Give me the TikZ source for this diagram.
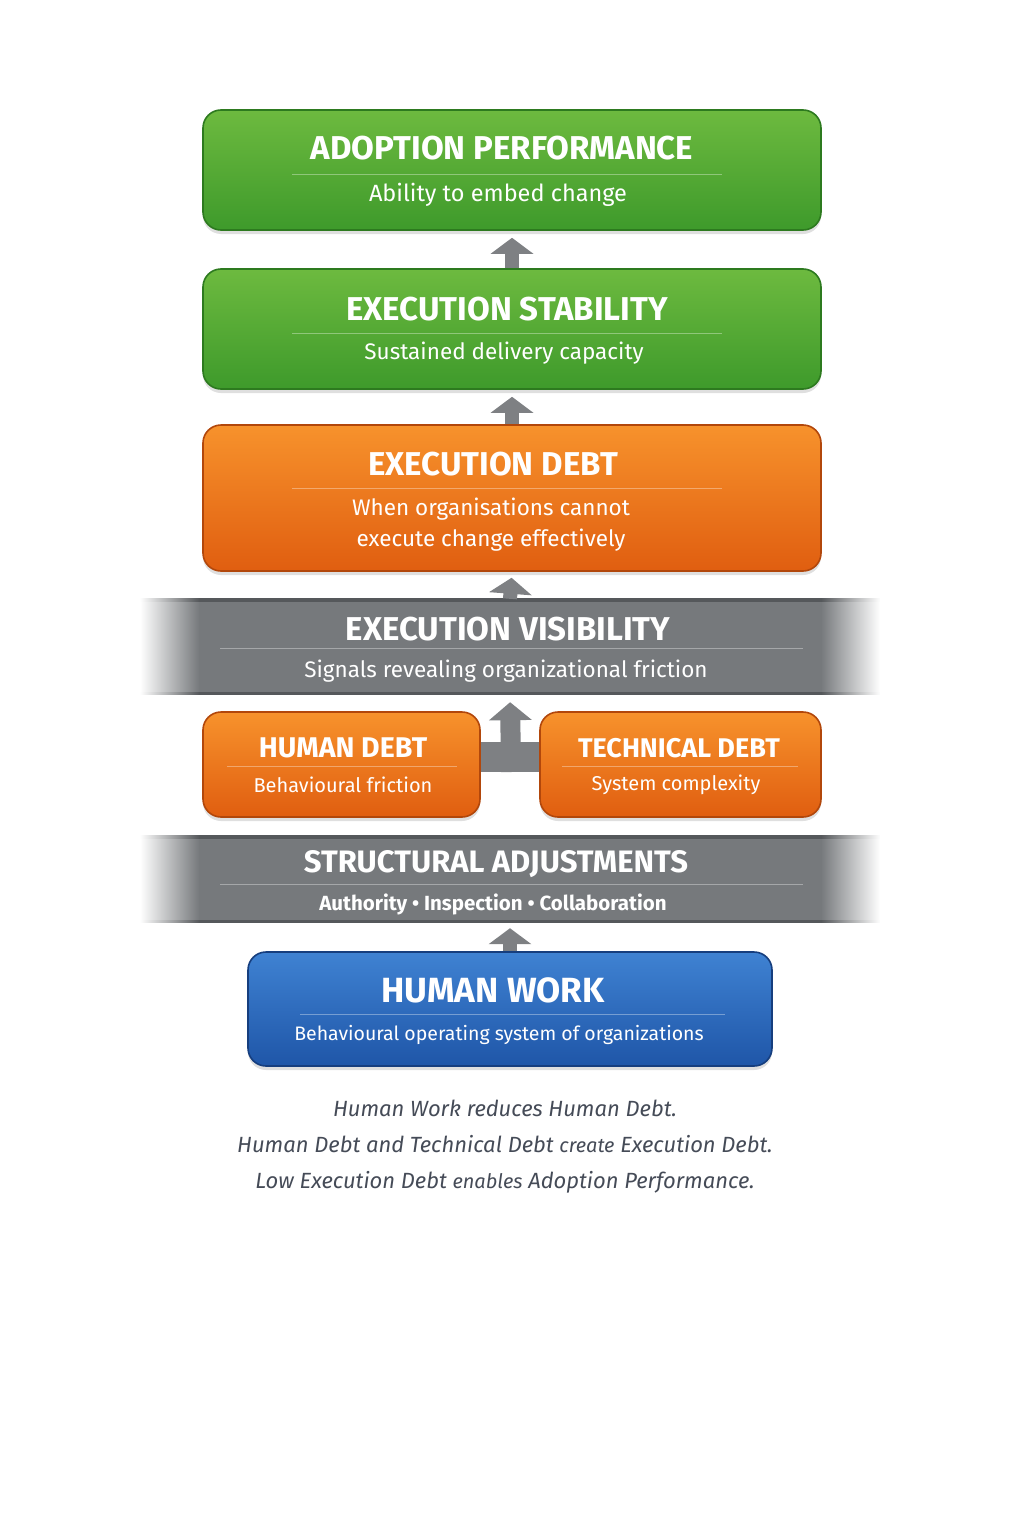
\documentclass[tikz,border=0pt]{standalone}
\usepackage{fontspec}
\setmainfont{Fira Sans}
\usetikzlibrary{shadows,arrows.meta}

\definecolor{greentop}{HTML}{6DBA3F}
\definecolor{greenbot}{HTML}{3E9A2B}
\definecolor{greenline}{HTML}{2D7A1F}
\definecolor{orangetop}{HTML}{F7922C}
\definecolor{orangebot}{HTML}{E05E10}
\definecolor{orangeline}{HTML}{B2470B}
\definecolor{bluetop}{HTML}{3F82D2}
\definecolor{bluebot}{HTML}{1F56A8}
\definecolor{blueline}{HTML}{163E7E}
\definecolor{bandgray}{HTML}{76797C}
\definecolor{bandedge}{HTML}{55585B}
\definecolor{arrowgray}{HTML}{7E8083}
\definecolor{notetext}{HTML}{454B57}

\pgfdeclarehorizontalshading{bandfade}{100bp}{color(0bp)=(white); color(25bp)=(white); color(29bp)=(bandgray); color(71bp)=(bandgray); color(75bp)=(white); color(100bp)=(white)}
\pgfdeclarehorizontalshading{edgefade}{100bp}{color(0bp)=(white); color(25bp)=(white); color(29bp)=(bandedge); color(71bp)=(bandedge); color(75bp)=(white); color(100bp)=(white)}

\begin{document}
\begin{tikzpicture}[x=1pt,y=-1pt,
    box/.style={rectangle,rounded corners=18pt,line width=1.6pt,
        drop shadow={opacity=0.25,shadow xshift=0pt,shadow yshift=-4pt}},
    greenbox/.style={box,draw=greenline,top color=greentop,bottom color=greenbot},
    orangebox/.style={box,draw=orangeline,top color=orangetop,bottom color=orangebot},
    bluebox/.style={box,draw=blueline,top color=bluetop,bottom color=bluebot},
    band/.style={rectangle,shading=bandfade},
    title/.style={text=white,font=\bfseries\fontsize{33}{36}\selectfont},
    smalltitle/.style={text=white,font=\bfseries\fontsize{28.5}{32}\selectfont},
    sub/.style={text=white,font=\fontsize{22.5}{31}\selectfont,align=center},
    divider/.style={white,opacity=0.35,line width=1pt},
    uparrow/.style={arrowgray,line width=14pt,-{Triangle[width=42pt,length=16pt]}},
    note/.style={text=notetext,font=\itshape\fontsize{22}{36}\selectfont,align=center}]

    \useasboundingbox (0,0) rectangle (1024,1536);

    % boxes
    \node[greenbox,minimum width=618pt,minimum height=120pt] (adopt) at (512,170) {};
    \node[greenbox,minimum width=618pt,minimum height=120pt] (stab) at (512,329) {};
    \node[orangebox,minimum width=618pt,minimum height=146pt] (exdebt) at (512,498) {};
    \node[band,minimum width=740pt,minimum height=95pt] (vis) at (510,646.5) {};
    \node[orangebox,minimum width=277pt,minimum height=105pt] (hdebt) at (341.5,764.5) {};
    \node[orangebox,minimum width=281pt,minimum height=105pt] (tdebt) at (680.5,764.5) {};
    \node[band,minimum width=740pt,minimum height=86pt] (struct) at (510,879) {};
    \node[bluebox,minimum width=524pt,minimum height=114pt] (hwork) at (510,1009) {};

    % band edges
    \shade[shading=edgefade] (vis.north west) rectangle ([yshift=-3pt]vis.north east);
    \shade[shading=edgefade] ([yshift=2pt]vis.south west) rectangle (vis.south east);
    \shade[shading=edgefade] (struct.north west) rectangle ([yshift=-3pt]struct.north east);
    \shade[shading=edgefade] ([yshift=2pt]struct.south west) rectangle (struct.south east);

    % texts
    \node[title] (adoptT) at (502,148) {ADOPTION PERFORMANCE};
    \draw[divider] (292,174) -- (722,174);
    \node[sub,font=\fontsize{23.5}{31}\selectfont] (adoptS) at (498,195) {Ability to embed change};

    \node[title] (stabT) at (507,309) {EXECUTION STABILITY};
    \draw[divider] (292,333) -- (722,333);
    \node[sub] (stabS) at (504,353) {Sustained delivery capacity};

    \node[title] (exdebtT) at (493,464) {EXECUTION DEBT};
    \draw[divider] (292,488) -- (722,488);
    \node[sub] (exdebtS) at (491,525) {When organisations cannot\\execute change effectively};

    \node[title] (visT) at (508,629) {EXECUTION VISIBILITY};
    \draw[divider] (220,648) -- (803,648);
    \node[sub] (visS) at (506,671) {Signals revealing organizational friction};

    \node[smalltitle] (hdebtT) at (343,748) {HUMAN DEBT};
    \draw[divider] (227,766) -- (457,766);
    \node[sub,font=\fontsize{20}{24}\selectfont] (hdebtS) at (343,785) {Behavioural friction};

    \node[smalltitle,font=\bfseries\fontsize{27}{32}\selectfont] (tdebtT) at (679,748) {TECHNICAL DEBT};
    \draw[divider] (562,766) -- (798,766);
    \node[sub,font=\fontsize{20}{24}\selectfont] (tdebtS) at (676,785) {System complexity};

    \node[title,font=\bfseries\fontsize{31}{36}\selectfont] (structT) at (496,864) {STRUCTURAL ADJUSTMENTS};
    \draw[divider] (220,884) -- (803,884);
    \node[sub,font=\bfseries\fontsize{20.5}{24}\selectfont] (structS) at (493,904) {Authority • Inspection • Collaboration};

    \node[title,font=\bfseries\fontsize{35}{38}\selectfont] (hworkT) at (493,990) {HUMAN WORK};
    \draw[divider] (300,1014) -- (725,1014);
    \node[sub,font=\fontsize{19.5}{24}\selectfont] (hworkS) at (499,1035) {Behavioural operating system of organizations};

    % connectors
    \draw[uparrow,shorten >=7pt] (stab.north) -- (adopt.south);
    \draw[uparrow,shorten >=7pt] (exdebt.north) -- (stab.south);
    \draw[uparrow,shorten >=6pt] (vis.north) -- (exdebt.south);
    \fill[arrowgray] ([yshift=-7pt]hdebt.east) rectangle ([yshift=23pt]tdebt.west);
    \coordinate (join) at (511,772);
    \draw[uparrow,line width=20pt,-{Triangle[width=42pt,length=18pt]},shorten >=8pt] (join) -- (vis.south);
    \draw[uparrow,shorten >=6pt] (hwork.north) -- (struct.south);

    % note
    \node[note] (notes) at (505,1147) {Human Work reduces Human Debt.\\Human Debt and Technical Debt {\fontsize{20}{36}\selectfont create} Execution Debt.\\Low Execution Debt {\fontsize{20}{36}\selectfont enables} Adoption Performance.};
\end{tikzpicture}
\end{document}
